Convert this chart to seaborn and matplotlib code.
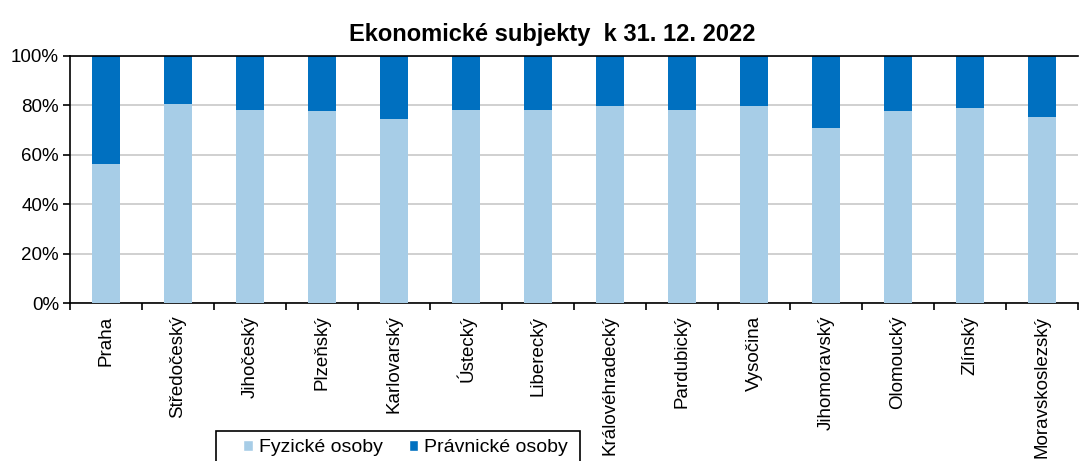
import numpy as np
import pandas as pd
import matplotlib
matplotlib.use("Agg")
import matplotlib.pyplot as plt
import seaborn as sns
from matplotlib.patches import Patch, Rectangle
from matplotlib.ticker import FixedLocator, PercentFormatter

# ---------------------------------------------------------------------------
# Data (share of natural persons, %)
# ---------------------------------------------------------------------------
regions = [
    "Praha", "Středočeský", "Jihočeský", "Plzeňský", "Karlovarský",
    "Ústecký", "Liberecký", "Královéhradecký", "Pardubický", "Vysočina",
    "Jihomoravský", "Olomoucký", "Zlínský", "Moravskoslezský",
]
fyzicke = [56.3, 80.6, 78.3, 77.6, 74.5, 78.3, 78.3, 79.8, 78.3, 79.8,
           70.9, 77.6, 79.0, 75.3]
pravnicke = [100 - v for v in fyzicke]

LIGHT = "#A7CDE7"
DARK = "#0070C0"

W, H = 1086, 461

df = pd.DataFrame({"kraj": regions, "fyzicke": fyzicke, "pravnicke": pravnicke})
df["celkem"] = df["fyzicke"] + df["pravnicke"]

sns.set_style("white")
plt.rcParams["font.family"] = ["Liberation Sans", "DejaVu Sans"]
plt.rcParams["text.color"] = "black"
plt.rcParams["xtick.color"] = "black"
plt.rcParams["ytick.color"] = "black"

fig = plt.figure(figsize=(W / 100, H / 100), dpi=100)
ax = fig.add_axes([70 / W, 1 - 303 / H, 1008 / W, 247 / H])

# stacked: full bar dark, then light share on top of it
sns.barplot(data=df, x="kraj", y="celkem", color=DARK, width=0.39,
            saturation=1, linewidth=0, ax=ax, zorder=2)
sns.barplot(data=df, x="kraj", y="fyzicke", color=LIGHT, width=0.39,
            saturation=1, linewidth=0, ax=ax, zorder=3)

ax.set_ylim(0, 100)
ax.set_xlim(-0.5, len(regions) - 0.5)
ax.yaxis.set_major_locator(FixedLocator([0, 20, 40, 60, 80, 100]))
ax.yaxis.set_major_formatter(PercentFormatter(decimals=0))
ax.grid(axis="y", color="#C8C8C8", linewidth=1.2, zorder=0)
ax.set_axisbelow(True)

ax.set_xlabel("")
ax.set_ylabel("")
ax.set_xticks(range(len(regions)))
ax.set_xticklabels(regions, rotation=90, fontsize=13.5, va="top")
ax.tick_params(axis="x", which="major", length=0, pad=9)
ax.set_xticks(np.arange(-0.5, len(regions), 1), minor=True)
ax.tick_params(axis="x", which="minor", bottom=True, length=5, width=1.2,
               direction="out", color="black")
ax.tick_params(axis="y", labelsize=13.5, length=5, width=1.2, direction="out",
               color="black", left=True, pad=3)

for side in ["left", "bottom", "top"]:
    ax.spines[side].set_visible(True)
    ax.spines[side].set_color("black")
    ax.spines[side].set_linewidth(1.2)
ax.spines["right"].set_visible(False)

fig.text(552 / W, 1 - 41 / H, "Ekonomické subjekty  k 31. 12. 2022",
         fontsize=17, fontweight="bold", ha="center", va="baseline",
         color="black")

handles = [Patch(facecolor=LIGHT, label="Fyzické osoby"),
           Patch(facecolor=DARK, label="Právnické osoby")]
leg = fig.legend(handles=handles, loc="upper left",
                 bbox_to_anchor=(243 / W, 1 - 439 / H), ncol=2, frameon=False,
                 fontsize=14, handlelength=0.5, handleheight=0.5,
                 handletextpad=0.3, columnspacing=1.35, borderpad=0,
                 borderaxespad=0)

# legend frame (cut by the lower image edge as in the original)
fig.patches.append(Rectangle((216 / W, -0.1), 364 / W, 0.1 + (461 - 431) / H,
                             transform=fig.transFigure, fill=False,
                             edgecolor="black", linewidth=1.2))

fig.savefig("out.png", dpi=100)
